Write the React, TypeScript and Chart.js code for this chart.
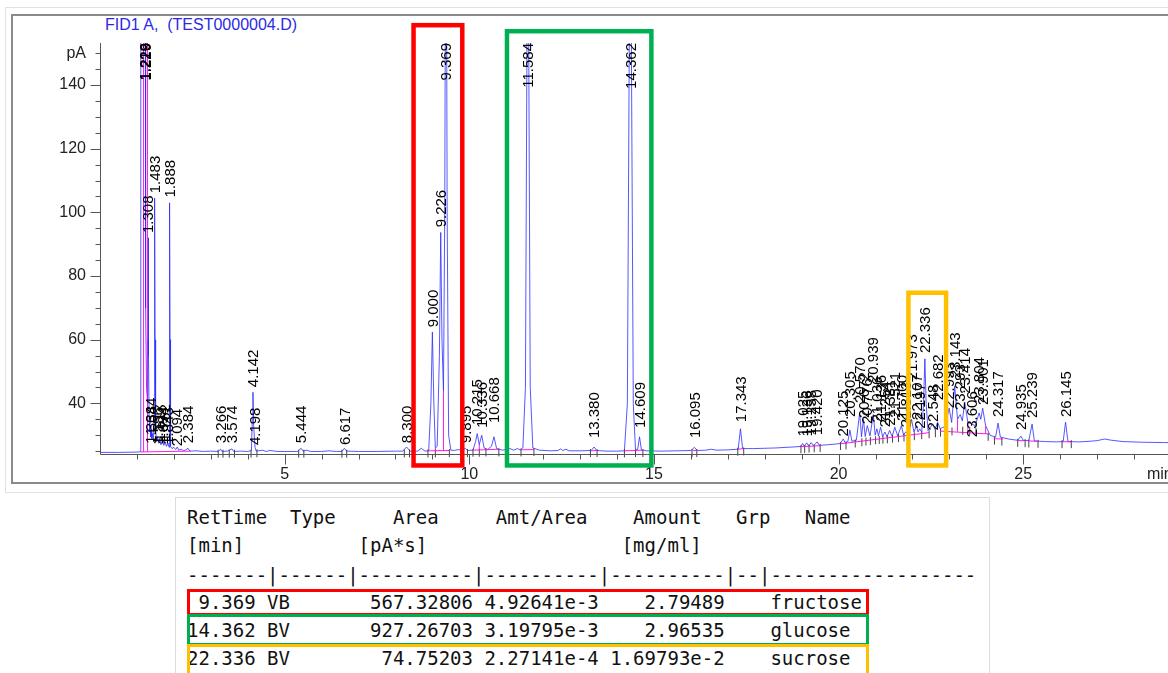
import { useEffect, useRef } from 'react';
import { Chart, registerables } from 'chart.js';

Chart.register(...registerables);

// ---------- axis ticks ----------
const xTickValues = [1, 2, 3, 4, 5, 6, 7, 8, 9, 10, 11, 12, 13, 14, 15, 16, 17, 18, 19, 20, 21, 22, 23, 24, 25, 26, 27, 28, 29];
const xLabelValues = [5, 10, 15, 20, 25];
const yTickValues = [25, 30, 35, 40, 45, 50, 55, 60, 65, 70, 75, 80, 85, 90, 95, 100, 105, 110, 115, 120, 125, 130, 135, 140, 145, 150];
const yLabelValues = [40, 60, 80, 100, 120, 140];
const yUnitValue = 150;
const yUnitLabel = 'pA';
const xUnitLabel = 'min';
const xUnitAt = 28.35;
const xMin = 0;
const xMax = 29.65;
const yMin = 24.1;
const yMax = 153.2;

const chartTitle = 'FID1 A,  (TEST0000004.D)';

// ---------- detector signal (time min, pA) ----------
const traceEarly: [number, number][] = [
  [0.0, 24.6], [0.5, 24.6], [1.0, 24.7], [1.09, 24.8], [1.1, 60], [1.11, 230], [1.225, 230], [1.235, 70],
  [1.26, 45], [1.29, 40], [1.3, 60], [1.308, 92], [1.318, 55], [1.33, 36], [1.35, 31], [1.364, 33],
  [1.374, 29.5], [1.384, 32], [1.4, 29], [1.42, 30.5], [1.44, 28.5], [1.465, 33], [1.475, 70], [1.483, 104.5],
  [1.492, 60], [1.505, 32], [1.53, 28], [1.556, 29.5], [1.585, 27.5], [1.617, 29], [1.65, 27], [1.694, 28.5],
  [1.73, 26.8], [1.762, 28], [1.8, 26.5], [1.843, 27.5], [1.87, 26.2], [1.88, 60], [1.888, 103], [1.897, 60],
  [1.91, 26.5], [1.95, 25.8], [2.0, 26.2], [2.05, 25.5], [2.094, 26.3], [2.13, 25.3], [2.2, 25.6], [2.26, 25.1],
  [2.32, 25.4], [2.384, 25.9], [2.43, 25.0], [2.6, 25.1], [2.8, 24.9], [3.0, 25.0],
];

const traceMiddle: [number, number][] = [
  [3.2, 24.9], [3.266, 25.6], [3.3, 24.9], [3.45, 25.0], [3.574, 25.7], [3.62, 24.9], [3.8, 25.0], [4.0, 24.9],
  [4.1, 25.2], [4.125, 35], [4.142, 43.5], [4.16, 33], [4.198, 26.2], [4.23, 25.0], [4.4, 25.3], [4.5, 24.9],
  [4.6, 25.2], [4.8, 24.9], [5.2, 24.9], [5.35, 24.9], [5.444, 25.9], [5.5, 25.0], [5.6, 25.3], [5.7, 24.9],
  [6.0, 24.9], [6.2, 25.1], [6.4, 24.9], [6.55, 24.9], [6.617, 25.9], [6.68, 25.0], [7.0, 24.9], [7.5, 24.9],
  [8.0, 25.0], [8.2, 25.0], [8.3, 26.3], [8.4, 25.0], [8.6, 25.0], [8.7, 25.9], [8.8, 25.0], [8.9, 25.1],
  [8.96, 40], [9.0, 62.4], [9.04, 40], [9.08, 26], [9.13, 26.5], [9.19, 55], [9.226, 93.7], [9.26, 60],
  [9.3, 44], [9.335, 100], [9.369, 240], [9.4, 100], [9.44, 30], [9.5, 25.3], [9.6, 25.2], [9.7, 25.5],
  [9.8, 25.2], [9.895, 25.9], [9.95, 25.2], [10.1, 25.3], [10.17, 28], [10.215, 30.5], [10.27, 27], [10.336, 30],
  [10.4, 26], [10.5, 25.5], [10.6, 26.5], [10.668, 29.5], [10.74, 25.8], [10.9, 25.3], [11.1, 25.8], [11.2, 25.3],
  [11.3, 25.8], [11.38, 25.4], [11.45, 26], [11.52, 45], [11.56, 150], [11.584, 260], [11.61, 150], [11.65, 45],
  [11.72, 26], [11.9, 25.3], [12.2, 25.1], [12.4, 25.2], [12.47, 25.7], [12.53, 25.2], [12.62, 25.6], [12.7, 25.1],
  [13.0, 25.1], [13.3, 25.2], [13.38, 26.3], [13.45, 25.2], [13.7, 25.0], [14.0, 25.0], [14.2, 25.1], [14.28, 40],
  [14.33, 150], [14.362, 260], [14.39, 150], [14.44, 40], [14.5, 25.5], [14.56, 25.6], [14.609, 29.5], [14.66, 25.4],
  [14.8, 25.1], [15.2, 25.0], [15.6, 25.1], [16.0, 25.2], [16.095, 26.2], [16.17, 25.2], [16.4, 25.3], [16.55, 25.6],
  [16.7, 25.3], [17.0, 25.4], [17.28, 25.6], [17.343, 32], [17.4, 25.8], [17.7, 25.8], [18.0, 25.9],
];

const traceLate: [number, number][] = [
  [18.3, 26.0], [18.6, 26.2], [18.9, 26.4], [18.98, 26.5], [19.025, 27.4], [19.07, 26.5], [19.136, 27.6], [19.19, 26.6],
  [19.258, 27.7], [19.32, 26.7], [19.42, 27.9], [19.48, 26.8], [19.7, 27.0], [19.9, 27.2], [20.05, 27.4], [20.125, 28.8],
  [20.18, 27.6], [20.25, 28.0], [20.305, 31.6], [20.36, 28.1], [20.48, 28.4], [20.57, 37], [20.62, 29.5], [20.672, 35],
  [20.72, 29.6], [20.776, 33], [20.85, 29.8], [20.939, 36.5], [20.99, 30.0], [21.036, 32], [21.08, 29.8], [21.136, 32.5],
  [21.19, 29.6], [21.254, 31], [21.31, 29.5], [21.381, 31.5], [21.45, 29.6], [21.521, 32.5], [21.6, 29.8], [21.7, 33],
  [21.76, 30], [21.813, 31], [21.9, 30.5], [21.973, 35], [22.04, 31], [22.107, 33], [22.15, 31], [22.197, 32],
  [22.25, 31], [22.3, 40], [22.336, 54], [22.37, 40], [22.42, 31.5], [22.548, 33.5], [22.61, 31.8], [22.682, 34],
  [22.75, 32], [22.82, 32.5], [22.88, 32.5], [22.993, 38.5], [23.06, 34], [23.143, 45.5], [23.22, 35], [23.293, 36.5],
  [23.35, 34.5], [23.414, 40.4], [23.5, 34], [23.606, 33.5], [23.7, 33], [23.804, 37], [23.85, 35], [23.901, 38.5],
  [23.98, 33], [24.1, 30], [24.25, 29.4], [24.317, 33.8], [24.38, 29.4], [24.6, 28.8], [24.85, 28.4], [24.935, 29.7],
  [25.0, 28.4], [25.15, 28.3], [25.239, 33.5], [25.3, 28.2], [25.6, 28.0], [25.9, 27.9], [26.08, 28.0], [26.145, 34.1],
  [26.21, 28.0], [26.5, 27.9], [26.8, 28.1], [27.0, 28.3], [27.2, 28.8], [27.4, 28.4], [27.7, 28.0], [28.2, 27.8],
  [28.8, 27.7], [29.65, 27.6],
];

// ---------- integration baselines & drop lines (pink) ----------
const baselineSegments: [number, number][][] = [
  [[1.1, 24.75], [2.45, 25.0]],
  [[1.18, 24.75], [1.18, 240]],
  [[1.285, 24.8], [1.285, 240]],
  [[8.88, 25.1], [9.46, 25.2]],
  [[9.08, 25.1], [9.08, 26]],
  [[9.3, 25.15], [9.3, 44]],
  [[10.1, 25.3], [10.8, 25.6]],
  [[10.27, 25.4], [10.27, 27]],
  [[11.4, 25.4], [11.75, 25.5]],
  [[13.3, 25.1], [13.45, 25.2]],
  [[14.2, 25.1], [14.7, 25.3]],
  [[14.5, 25.2], [14.5, 25.5]],
  [[16.05, 25.2], [16.15, 25.2]],
  [[17.28, 25.6], [17.42, 25.8]],
  [[18.98, 26.4], [19.5, 26.7]],
  [[20.05, 27.3], [22.45, 30.8]],
  [[22.25, 30.5], [22.25, 31]],
  [[22.75, 31.3], [24.05, 30.4]],
  [[23.22, 31.1], [23.22, 35]],
  [[23.5, 31.0], [23.5, 34]],
  [[23.98, 30.5], [23.98, 33]],
  [[24.2, 28.9], [24.45, 28.8]],
  [[24.85, 28.3], [25.05, 28.3]],
  [[25.15, 28.2], [25.4, 28.1]],
  [[26.05, 27.95], [26.3, 27.95]],
];

// ---------- peak start/end tick marks ----------
const peakMarks: [number, number][] = [
  [3.2, 24.2], [3.33, 24.2], [3.5, 24.2], [3.64, 24.2], [4.09, 24.2], [4.25, 24.3], [5.38, 24.2], [5.52, 24.2],
  [6.55, 24.2], [6.68, 24.2], [8.24, 24.3], [8.38, 24.3], [8.88, 24.3], [9.08, 24.3], [9.46, 24.4], [9.84, 24.4],
  [9.95, 24.4], [10.1, 24.5], [10.27, 24.5], [10.45, 24.6], [10.8, 24.6], [11.4, 24.6], [11.75, 24.7], [13.28, 24.4],
  [13.46, 24.4], [14.2, 24.3], [14.5, 24.4], [14.7, 24.4], [16.03, 24.4], [16.16, 24.4], [17.27, 24.8], [17.43, 24.9],
  [18.98, 25.6], [19.08, 25.7], [19.2, 25.8], [19.34, 25.9], [19.5, 26.0], [20.05, 26.6], [20.2, 26.8], [20.45, 27.4],
  [20.63, 27.8], [20.74, 28.0], [20.86, 28.2], [21.0, 28.4], [21.1, 28.5], [21.2, 28.6], [21.32, 28.7], [21.46, 28.9],
  [21.62, 29.1], [21.77, 29.3], [21.9, 29.5], [22.05, 29.7], [22.25, 30.0], [22.45, 30.3], [22.62, 30.6], [22.76, 30.8],
  [22.9, 31.0], [23.07, 31.2], [23.36, 31.4], [23.55, 31.3], [23.72, 31.0], [24.05, 29.5], [24.22, 28.3], [24.42, 28.0],
  [24.85, 27.6], [25.05, 27.5], [25.15, 27.4], [25.4, 27.3], [26.05, 27.2], [26.3, 27.2],
];

// ---------- retention-time labels and where each label starts (pA); null = at top ----------
const peakLabels = [
  '1.219', '1.226', '1.229', '1.308', '1.364', '1.384', '1.483', '1.556', '1.617', '1.694', '1.762', '1.843', '1.888',
  '2.094', '2.384', '3.266', '3.574', '4.142', '4.198', '5.444', '6.617', '8.300', '9.000', '9.226', '9.369', '9.895',
  '10.215', '10.336', '10.668', '11.584', '13.380', '14.362', '14.609', '16.095', '17.343', '19.025', '19.136', '19.258',
  '19.420', '20.125', '20.305', '20.570', '20.672', '20.776', '20.939', '21.036', '21.136', '21.254', '21.381', '21.521',
  '21.700', '21.813', '21.973', '22.107', '22.197', '22.336', '22.548', '22.682', '22.993', '23.143', '23.293', '23.414',
  '23.606', '23.804', '23.901', '24.317', '24.935', '25.239', '26.145',
];
const peakLabelBase: (number | null)[] = [
  null, null, null, 93.5, 27.3, 30, 106, 27, 28, 27, 28, 27, 104.7,
  26.5, 27.5, 27.5, 27.5, 45.1, 26.9, 27.5, 26.9, 27.5, 63.9, 95.3, null, 27.5,
  33.2, 32.3, 33.8, null, 29.1, null, 32.3, 29.1, 34.1, 29.6, 29.6, 29.8,
  30, 29.6, 35.7, 40.1, 35.4, 33.5, 46.4, 34, 34.5, 32.5, 33, 35.5,
  34.5, 32.5, 47.3, 34.8, 32, 55.8, 31.5, 41, 38.5, 47.9, 37.9, 43,
  29.4, 40.1, 39.5, 35.7, 31.6, 35.4, 35.7,
];

// ---------- highlighted regions (min / pA) ----------
const boxColors = ['#ff0000', '#00b050', '#ffc000'];
const boxStart = [8.49, 11.02, 21.89];
const boxEnd = [9.81, 14.93, 22.91];
const boxTop = [158.8, 156.9, 74.75];
const boxBottom = [20.5, 20.5, 20.5];

// ---------- report table ----------
const tableHeader = 'RetTime  Type     Area     Amt/Area    Amount   Grp   Name';
const tableUnits = '[min]          [pA*s]                 [mg/ml]';
const tableRule = '-------|------|----------|----------|----------|--|------------------';
const retTimes = [' 9.369', '14.362', '22.336'];
const peakTypes = ['VB', 'BV', 'BV'];
const areas = ['567.32806', '927.26703', '74.75203'];
const amtPerArea = ['4.92641e-3', '3.19795e-3', '2.27141e-4'];
const amounts = ['2.79489', '2.96535', '1.69793e-2'];
const compoundNames = ['fructose', 'glucose', 'sucrose'];
const rowColors = ['#ff0000', '#00b050', '#ffc000'];

const pad = (s: string, n: number) => (s.length >= n ? s : ' '.repeat(n - s.length) + s);
const tableRows = retTimes.map(
  (rt, i) => `${pad(rt, 6)} ${peakTypes[i]}${pad(areas[i], 16)} ${pad(amtPerArea[i], 10)} ${pad(amounts[i], 10)}    ${compoundNames[i]}`
);

const toXY = (pairs: [number, number][]) => pairs.map(([x, y]) => ({ x, y }));

const AXIS_COLOR = '#555555';
const LABEL_FONT = '15px "Liberation Sans", Arial, sans-serif';

const overlayPlugin = {
  id: 'chromOverlay',
  afterDatasetsDraw(chart: any) {
    const { ctx, chartArea, scales } = chart;
    const xs = scales.x;
    const ys = scales.y;
    ctx.save();
    ctx.strokeStyle = AXIS_COLOR;
    ctx.lineWidth = 1;
    ctx.beginPath();
    const ax = Math.round(chartArea.left) + 0.5;
    const ay = Math.round(chartArea.bottom) + 0.5;
    ctx.moveTo(ax, chartArea.top);
    ctx.lineTo(ax, ay);
    ctx.moveTo(ax, ay);
    ctx.lineTo(chartArea.right, ay);
    yTickValues.forEach((v) => {
      const py = Math.round(ys.getPixelForValue(v)) + 0.5;
      const len = yLabelValues.includes(v) ? 10 : 5;
      ctx.moveTo(ax - len, py);
      ctx.lineTo(ax, py);
    });
    xTickValues.forEach((v) => {
      const px = Math.round(xs.getPixelForValue(v)) + 0.5;
      const len = xLabelValues.includes(v) ? 10 : 5;
      ctx.moveTo(px, ay);
      ctx.lineTo(px, ay + len);
    });
    ctx.stroke();

    ctx.font = LABEL_FONT;
    ctx.fillStyle = '#000000';
    ctx.textBaseline = 'middle';
    ctx.textAlign = 'left';
    peakLabels.forEach((txt, i) => {
      const px = xs.getPixelForValue(parseFloat(txt)) + 1;
      const w = ctx.measureText(txt).width;
      const base = peakLabelBase[i];
      const py = base === null ? chartArea.top + w : ys.getPixelForValue(base);
      ctx.save();
      ctx.translate(px, py);
      ctx.rotate(-Math.PI / 2);
      ctx.fillText(txt, 0, 0);
      ctx.restore();
    });

    ctx.font = '16px "Liberation Sans", Arial, sans-serif';
    ctx.fillStyle = '#222222';
    ctx.fillText(xUnitLabel, xs.getPixelForValue(xUnitAt), chartArea.bottom + 21);
    ctx.restore();
  },
  afterDraw(chart: any) {
    const { ctx, scales } = chart;
    const xs = scales.x;
    const ys = scales.y;
    ctx.save();
    ctx.lineWidth = 4.5;
    boxColors.forEach((c, i) => {
      const x0 = xs.getPixelForValue(boxStart[i]);
      const x1 = xs.getPixelForValue(boxEnd[i]);
      const y0 = ys.getPixelForValue(boxTop[i]);
      const y1 = ys.getPixelForValue(boxBottom[i]);
      ctx.strokeStyle = c;
      ctx.strokeRect(x0, y0, x1 - x0, y1 - y0);
    });
    ctx.restore();
  },
};

function Chromatogram() {
  const ref = useRef<HTMLCanvasElement | null>(null);
  useEffect(() => {
    if (!ref.current) return;
    const pinkData: { x: number; y: number | null }[] = [];
    baselineSegments.forEach((seg) => {
      seg.forEach(([x, y]) => pinkData.push({ x, y }));
      pinkData.push({ x: seg[seg.length - 1][0], y: null });
    });
    const chart = new Chart(ref.current, {
      type: 'line',
      data: {
        datasets: [
          {
            label: 'baseline',
            data: pinkData as any,
            borderColor: 'rgba(255,0,230,0.9)',
            borderWidth: 1,
            pointRadius: 0,
            spanGaps: false,
            order: 0,
          },
          {
            label: 'marks',
            data: toXY(peakMarks),
            showLine: false,
            pointStyle: 'line',
            rotation: 90,
            pointRadius: 4,
            borderColor: '#444444',
            borderWidth: 1,
            clip: false as any,
            order: 1,
          },
          {
            label: 'FID1 A',
            data: toXY([...traceEarly, ...traceMiddle, ...traceLate]),
            borderColor: 'rgba(45,45,255,0.8)',
            borderWidth: 1,
            pointRadius: 0,
            tension: 0,
            order: 2,
          },
        ],
      },
      options: {
        animation: false,
        responsive: false,
        events: [],
        layout: { padding: { top: 43, left: 0, right: 0, bottom: 0 } },
        plugins: { legend: { display: false }, tooltip: { enabled: false }, title: { display: false } },
        scales: {
          x: {
            type: 'linear',
            min: xMin,
            max: xMax,
            grid: { display: false, drawTicks: false },
            border: { display: false },
            afterBuildTicks: (axis: any) => {
              axis.ticks = xTickValues.map((v) => ({ value: v }));
            },
            afterFit: (axis: any) => {
              axis.height = 36;
            },
            ticks: {
              autoSkip: false,
              maxRotation: 0,
              padding: 11,
              color: '#222222',
              font: { family: '"Liberation Sans", Arial, sans-serif', size: 16 },
              callback: (v: any) => (xLabelValues.includes(Number(v)) ? String(v) : ''),
            },
          },
          y: {
            type: 'linear',
            min: yMin,
            max: yMax,
            grid: { display: false, drawTicks: false },
            border: { display: false },
            afterBuildTicks: (axis: any) => {
              axis.ticks = yTickValues.map((v) => ({ value: v }));
            },
            afterFit: (axis: any) => {
              axis.width = 100;
            },
            ticks: {
              autoSkip: false,
              padding: 14,
              color: '#222222',
              font: { family: '"Liberation Sans", Arial, sans-serif', size: 16 },
              callback: (v: any) =>
                Number(v) === yUnitValue ? yUnitLabel : yLabelValues.includes(Number(v)) ? String(v) : '',
            },
          },
        },
      },
      plugins: [overlayPlugin],
    });
    return () => chart.destroy();
  }, []);
  return (
    <canvas
      ref={ref}
      width={1200}
      height={490}
      style={{ position: 'absolute', left: 0, top: 0, width: 1200, height: 490 }}
    />
  );
}

const monoStyle: React.CSSProperties = {
  position: 'absolute',
  left: 187,
  fontFamily: '"DejaVu Sans Mono", "Liberation Mono", monospace',
  fontSize: 19,
  lineHeight: '28px',
  height: 28,
  whiteSpace: 'pre',
  color: '#111',
};

export default function App() {
  const rowCenters = [601.7, 630, 658.3];
  const boxTops = [589, 614, 644];
  const boxHeights = [27, 32, 36];
  return (
    <div
      style={{
        position: 'fixed',
        left: 0,
        top: 0,
        width: 1168,
        height: 673,
        overflow: 'hidden',
        background: '#ffffff',
        fontFamily: '"Liberation Sans", Arial, sans-serif',
      }}
    >
      <div style={{ position: 'absolute', left: 5, top: 7, width: 1200, height: 486, border: '1px solid #e2e2e2', boxSizing: 'border-box' }} />
      <div style={{ position: 'absolute', left: 11, top: 14, width: 1200, height: 470, border: '2px solid #8a8a8a', boxSizing: 'border-box' }} />
      <div style={{ position: 'absolute', left: 105, top: 16, fontSize: 16, lineHeight: '18px', color: '#2a2ae6', whiteSpace: 'pre' }}>
        {chartTitle}
      </div>
      <Chromatogram />
      <div style={{ position: 'absolute', left: 175, top: 497, width: 815, height: 200, border: '1px solid #dcdcdc', boxSizing: 'border-box' }} />
      <div style={{ ...monoStyle, top: 516.7 - 14 }}>{tableHeader}</div>
      <div style={{ ...monoStyle, top: 545 - 14 }}>{tableUnits}</div>
      <div style={{ ...monoStyle, top: 575 - 14 }}>{tableRule}</div>
      {tableRows.map((r, i) => (
        <div key={'r' + i} style={{ ...monoStyle, top: rowCenters[i] - 14 }}>{r}</div>
      ))}
      {rowColors.map((c, i) => (
        <div
          key={'b' + i}
          style={{
            position: 'absolute',
            left: 187,
            top: boxTops[i],
            width: 682,
            height: boxHeights[i],
            border: `3px solid ${c}`,
            boxSizing: 'border-box',
          }}
        />
      ))}
    </div>
  );
}
